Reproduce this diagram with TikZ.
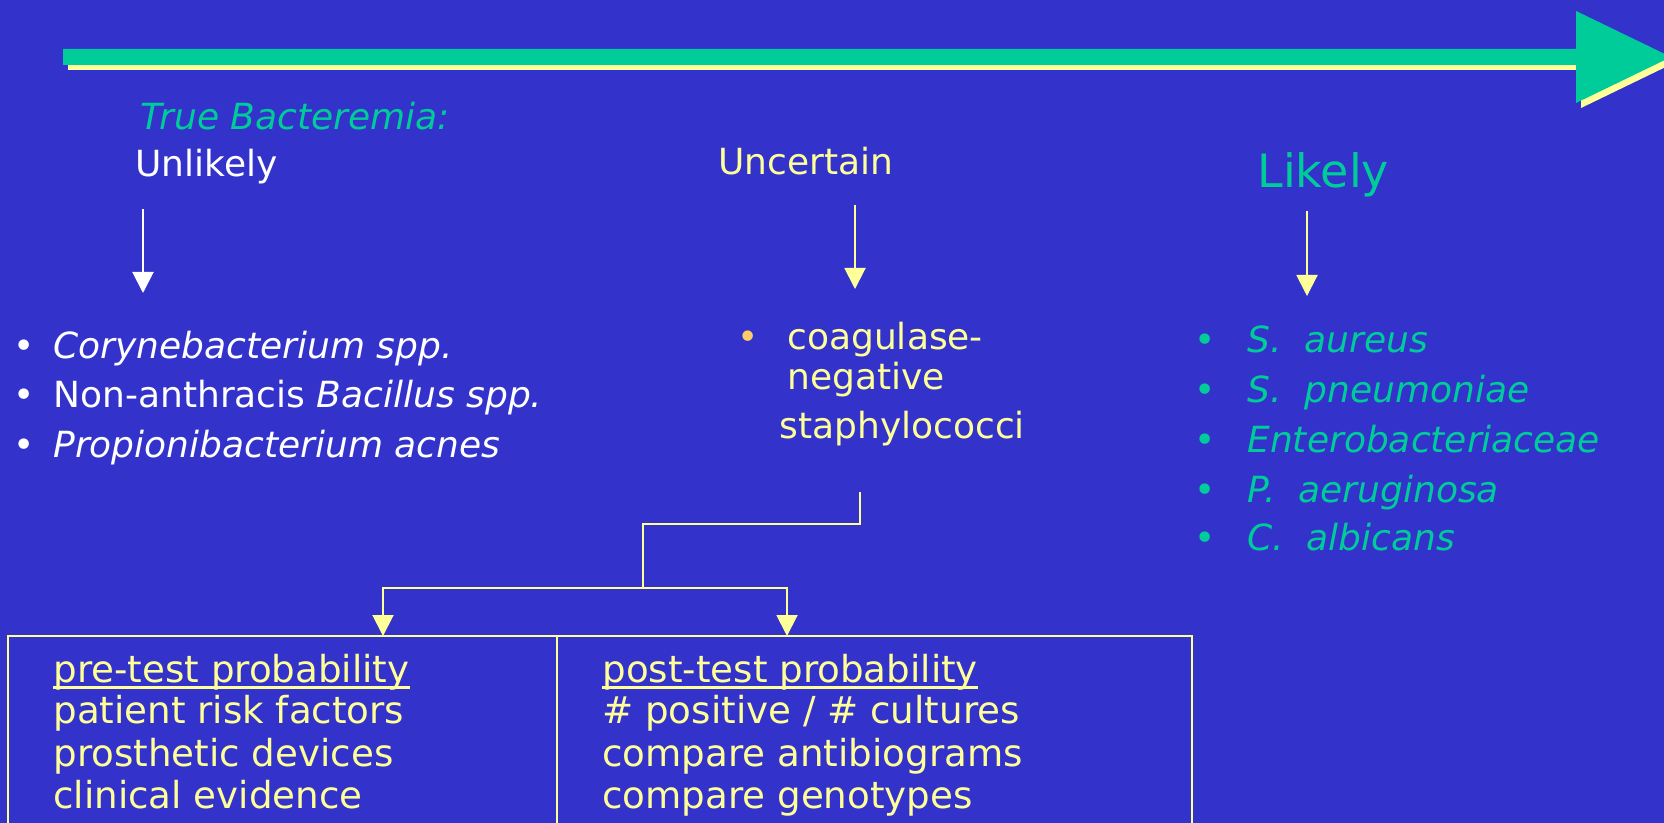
\documentclass[tikz,border=0pt]{standalone}
\usepackage{fontspec}
\setmainfont{DejaVu Sans}
\usetikzlibrary{arrows.meta}
\definecolor{bgblue}{HTML}{3333CC}
\definecolor{tealgreen}{HTML}{00CC99}
\definecolor{paleyellow}{HTML}{FFFF99}
\definecolor{bulletorange}{HTML}{FFCC66}
\newcommand{\txtsize}{\fontsize{18}{22}\selectfont}
\newcommand{\boxsize}{\fontsize{18.6}{22}\selectfont}
\newcommand{\bigsize}{\fontsize{23}{28}\selectfont}

\begin{document}
\begin{tikzpicture}[x=0.5pt,y=-0.5pt,
  lbl/.style={inner sep=0pt,anchor=base west,font=\txtsize},
  cell/.style={lbl,text=paleyellow,font=\boxsize},
  dot/.style={inner sep=0pt,anchor=base,font=\txtsize},
  arr/.style={-{Triangle[length=10.5pt,width=10.5pt]},line width=1pt},
  uline/.style={paleyellow,line width=1.5pt}]
  \useasboundingbox[fill=bgblue] (0,0) rectangle (1664,823);

  % scale arrow with its shadow
  \fill[paleyellow] (68,54) -- (1581,54) -- (1581,16) -- (1676,62) -- (1581,108) -- (1581,70) -- (68,70) -- cycle;
  \fill[tealgreen] (63,49) -- (1576,49) -- (1576,11) -- (1671,57) -- (1576,103) -- (1576,65) -- (63,65) -- cycle;

  % headings
  \node[lbl,text=tealgreen] (tb) at (140,130) {\itshape True Bacteremia:};
  \node[lbl,text=white] (unl) at (135,177) {Unlikely};
  \node[lbl,text=paleyellow] (unc) at (718,175) {Uncertain};
  \node[lbl,text=tealgreen,font=\bigsize] (lik) at (1257,188) {Likely};

  \coordinate (ua) at (143,209);
  \coordinate (ub) at (143,293);
  \coordinate (ca) at (855,205);
  \coordinate (cb) at (855,289);
  \coordinate (la) at (1307,211);
  \coordinate (lb) at (1307,296);
  \draw[arr,white] (ua) -- (ub);
  \draw[arr,paleyellow] (ca) -- (cb);
  \draw[arr,paleyellow] (la) -- (lb);

  % unlikely
  \node[dot,text=white] (b1) at (24,358) {•};
  \node[dot,text=white] (b2) at (24,408) {•};
  \node[dot,text=white] (b3) at (24,457) {•};
  \node[lbl,text=white] (u1) at (53,358) {\itshape Corynebacterium spp.};
  \node[lbl,text=white] (u2) at (53,408) {Non-anthracis \textit{Bacillus spp.}};
  \node[lbl,text=white] (u3) at (53,457) {\itshape Propionibacterium acnes};

  % uncertain
  \node[dot,text=bulletorange] (b4) at (748,350) {•};
  \node[lbl,text=paleyellow] (c1) at (787,350) {coagulase-};
  \node[lbl,text=paleyellow] (c2) at (787,390) {negative};
  \node[lbl,text=paleyellow] (c3) at (779,438) {staphylococci};

  % likely
  \node[dot,text=tealgreen] (g1) at (1205,353) {•};
  \node[dot,text=tealgreen] (g2) at (1205,402) {•};
  \node[dot,text=tealgreen] (g3) at (1205,452) {•};
  \node[dot,text=tealgreen] (g4) at (1205,502) {•};
  \node[dot,text=tealgreen] (g5) at (1205,550) {•};
  \node[lbl,text=tealgreen] (l1) at (1247,353) {\itshape S.~~aureus};
  \node[lbl,text=tealgreen] (l2) at (1247,402) {\itshape S.~~pneumoniae};
  \node[lbl,text=tealgreen] (l3) at (1247,452) {\itshape Enterobacteriaceae};
  \node[lbl,text=tealgreen] (l4) at (1247,502) {\itshape P.~~aeruginosa};
  \node[lbl,text=tealgreen] (l5) at (1247,550) {\itshape C.~~albicans};

  % split towards the two probabilities
  \coordinate (sb) at (860,492);
  \coordinate (kn) at (860,524);
  \coordinate (jn) at (643,588);
  \coordinate (lt) at (383,636);
  \coordinate (rt) at (787,636);
  \draw[paleyellow,line width=1pt] (sb) -- (kn) -| (jn);
  \draw[arr,paleyellow] (jn) -| (lt);
  \draw[arr,paleyellow] (jn) -| (rt);

  % table
  \draw[paleyellow,line width=0.75pt] (8,636) rectangle (1192,850);
  \draw[paleyellow,line width=0.75pt] (557,636) -- (557,850);
  \node[cell] (pre) at (53,682) {pre-test probability};
  \node[cell] (p1) at (53,723) {patient risk factors};
  \node[cell] (p2) at (53,766) {prosthetic devices};
  \node[cell] (p3) at (53,808) {clinical evidence};
  \node[cell] (post) at (602,682) {post-test probability};
  \node[cell] (q1) at (602,723) {\# positive / \# cultures};
  \node[cell] (q2) at (602,766) {compare antibiograms};
  \node[cell] (q3) at (602,808) {compare genotypes};
  \draw[uline] ([yshift=-2.5pt]pre.base west) -- ([yshift=-2.5pt]pre.base east);
  \draw[uline] ([yshift=-2.5pt]post.base west) -- ([yshift=-2.5pt]post.base east);
\end{tikzpicture}
\end{document}
